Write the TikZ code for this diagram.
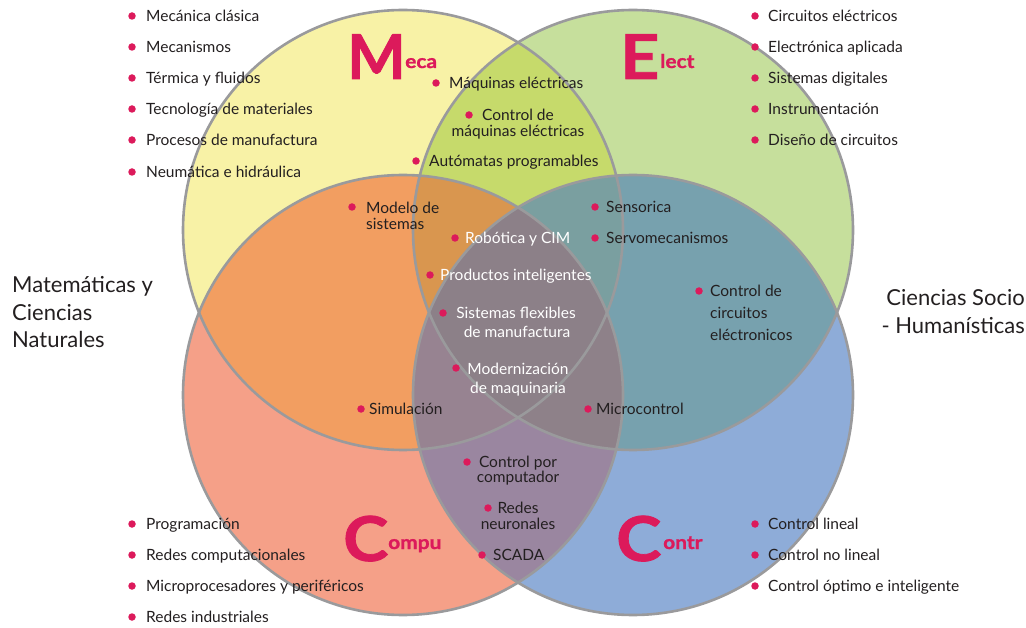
\documentclass[tikz,border=0pt]{standalone}
\usepackage{fontspec}
\setmainfont{Lato}
\newfontfamily\heavyfont{Lato}[BoldFeatures={FakeBold=1.2}]
\begin{document}
\definecolor{fM}{HTML}{F8F2A6}
\definecolor{fE}{HTML}{C6DF9C}
\definecolor{fC}{HTML}{F5A088}
\definecolor{fT}{HTML}{8EACD8}
\definecolor{fME}{HTML}{C6DA6B}
\definecolor{fMC}{HTML}{F29E61}
\definecolor{fET}{HTML}{77A1AE}
\definecolor{fCT}{HTML}{9A86A0}
\definecolor{fMEC}{HTML}{D9964F}
\definecolor{fMET}{HTML}{7A9FA0}
\definecolor{fMCT}{HTML}{978391}
\definecolor{fECT}{HTML}{8E8189}
\definecolor{fALL}{HTML}{8C8088}
\definecolor{rim}{HTML}{9A9A9C}
\definecolor{ink}{HTML}{231F20}
\definecolor{magenta}{HTML}{DC1A5B}
\begin{tikzpicture}[x=1pt,y=-1pt,
  dot/.style={circle,fill=magenta,inner sep=0pt,minimum size=7.5pt},
  lbl/.style={inner sep=0pt,anchor=base west,text=ink,font=\fontsize{15.5}{18}\selectfont},
  wlbl/.style={lbl,text=white},
  side/.style={inner sep=0pt,anchor=base west,text=ink,font=\fontsize{22}{26}\selectfont},
  bigl/.style={inner sep=0pt,anchor=base west,text=magenta,xscale=1.1,font=\fontsize{62}{62}\selectfont\heavyfont\bfseries},
  smalll/.style={inner sep=0pt,anchor=base west,text=magenta,xscale=1.1,font=\fontsize{19}{19}\selectfont\heavyfont\bfseries},
  rr/.style={radius=220pt}]
\useasboundingbox (0,0) rectangle (1026,628);
\coordinate (cM) at (403,230);
\coordinate (cE) at (633,230);
\coordinate (cC) at (403,395);
\coordinate (cT) at (633,395);

% single sets
\fill[fM] (cM) circle[rr];
\fill[fE] (cE) circle[rr];
\fill[fC] (cC) circle[rr];
\fill[fT] (cT) circle[rr];
% pairwise overlaps
\begin{scope}\clip (cM) circle[rr]; \fill[fME] (cE) circle[rr];\end{scope}
\begin{scope}\clip (cM) circle[rr]; \fill[fMC] (cC) circle[rr];\end{scope}
\begin{scope}\clip (cE) circle[rr]; \fill[fET] (cT) circle[rr];\end{scope}
\begin{scope}\clip (cC) circle[rr]; \fill[fCT] (cT) circle[rr];\end{scope}
% triple overlaps
\begin{scope}\clip (cM) circle[rr]; \clip (cE) circle[rr]; \fill[fMEC] (cC) circle[rr];\end{scope}
\begin{scope}\clip (cM) circle[rr]; \clip (cE) circle[rr]; \fill[fMET] (cT) circle[rr];\end{scope}
\begin{scope}\clip (cM) circle[rr]; \clip (cC) circle[rr]; \fill[fMCT] (cT) circle[rr];\end{scope}
\begin{scope}\clip (cE) circle[rr]; \clip (cC) circle[rr]; \fill[fECT] (cT) circle[rr];\end{scope}
% all four
\begin{scope}\clip (cM) circle[rr]; \clip (cE) circle[rr]; \clip (cC) circle[rr]; \fill[fALL] (cT) circle[rr];\end{scope}
% outlines
\foreach \c in {cM,cE,cC,cT} \draw[rim,line width=2.6pt] (\c) circle[rr];

% big initials
\node[bigl,xscale=0.91] (bigM) at (347,79) {M};
\node[smalll] (smM) at (405,68) {eca};
\node[bigl] (bigE) at (620,79) {E};
\node[smalll] (smE) at (660,68) {lect};
\node[bigl] (bigC) at (343,561) {C};
\node[smalll] (smC) at (388,549) {ompu};
\node[bigl] (bigT) at (616,561) {C};
\node[smalll] (smT) at (663,549) {ontr};

% side headings
\node[side] (mat1) at (12,293) {Matemáticas y};
\node[side] (mat2) at (12,320.5) {Ciencias};
\node[side] (mat3) at (12,348) {Naturales};
\node[side,anchor=base east] (soc1) at (1025,306) {Ciencias Socio};
\node[side,anchor=base east] (soc2) at (1025,334) {- Humanísticas};

% Meca list
\node[dot] (dm1) at (132,16) {};  \node[lbl] (tm1) at (146,21.5) {Mecánica clásica};
\node[dot] (dm2) at (132,47) {};  \node[lbl] (tm2) at (146,52.5) {Mecanismos};
\node[dot] (dm3) at (132,78) {};  \node[lbl] (tm3) at (146,83.5) {Térmica y fluidos};
\node[dot] (dm4) at (132,109) {}; \node[lbl] (tm4) at (146,114.5) {Tecnología de materiales};
\node[dot] (dm5) at (132,140) {}; \node[lbl] (tm5) at (146,145.5) {Procesos de manufactura};
\node[dot] (dm6) at (132,172) {}; \node[lbl] (tm6) at (146,177.5) {Neumática e hidráulica};

% Elect list
\node[dot] (de1) at (755,16) {};  \node[lbl] (te1) at (768,21.5) {Circuitos eléctricos};
\node[dot] (de2) at (755,47) {};  \node[lbl] (te2) at (768,52.5) {Electrónica aplicada};
\node[dot] (de3) at (755,78) {};  \node[lbl] (te3) at (768,83.5) {Sistemas digitales};
\node[dot] (de4) at (755,109) {}; \node[lbl] (te4) at (768,114.5) {Instrumentación};
\node[dot] (de5) at (755,140) {}; \node[lbl] (te5) at (768,145.5) {Diseño de circuitos};

% Compu list
\node[dot] (dc1) at (132,524) {}; \node[lbl] (tc1) at (146,529.5) {Programación};
\node[dot] (dc2) at (132,555) {}; \node[lbl] (tc2) at (146,560.5) {Redes computacionales};
\node[dot] (dc3) at (132,586) {}; \node[lbl] (tc3) at (146,591.5) {Microprocesadores y periféricos};
\node[dot] (dc4) at (132,617) {}; \node[lbl] (tc4) at (146,622.5) {Redes industriales};

% Contr list
\node[dot] (dt1) at (755,524) {}; \node[lbl] (tt1) at (768,529.5) {Control lineal};
\node[dot] (dt2) at (755,555) {}; \node[lbl] (tt2) at (768,560.5) {Control no lineal};
\node[dot] (dt3) at (755,586) {}; \node[lbl] (tt3) at (768,591.5) {Control óptimo e inteligente};

% items inside the overlaps
\node[dot] (d01) at (436,83) {};  \node[lbl] (t01) at (449,88.5) {Máquinas eléctricas};
\node[dot] (d02) at (469,115) {}; \node[lbl,anchor=base] (t02a) at (518,120.5) {Control de};
                                  \node[lbl,anchor=base] (t02b) at (518,136.5) {máquinas eléctricas};
\node[dot] (d03) at (416,161) {}; \node[lbl] (t03) at (429,166.5) {Autómatas programables};
\node[dot] (d04) at (352,207) {}; \node[lbl] (t04a) at (366,213.5) {Modelo de};
                                  \node[lbl] (t04b) at (366,229.5) {sistemas};
\node[dot] (d05) at (455,238) {}; \node[wlbl] (t05) at (465,243.5) {Robótica y CIM};
\node[dot] (d06) at (430,275) {}; \node[wlbl] (t06) at (440,280.5) {Productos inteligentes};
\node[dot] (d07) at (443,313) {}; \node[wlbl,anchor=base] (t07a) at (516,318.5) {Sistemas flexibles};
                                  \node[wlbl,anchor=base] (t07b) at (517,337.5) {de manufactura};
\node[dot] (d08) at (456,368) {}; \node[wlbl,anchor=base] (t08a) at (518,374.5) {Modernización};
                                  \node[wlbl,anchor=base] (t08b) at (518,393.5) {de maquinaria};
\node[dot] (d09) at (361,409) {}; \node[lbl] (t09) at (369,414.5) {Simulación};
\node[dot] (d10) at (588,409) {}; \node[lbl] (t10) at (596,414.5) {Microcontrol};
\node[dot] (d11) at (595,207) {}; \node[lbl] (t11) at (606,212.5) {Sensorica};
\node[dot] (d12) at (595,238) {}; \node[lbl] (t12) at (606,243.5) {Servomecanismos};
\node[dot] (d13) at (699,291) {}; \node[lbl] (t13a) at (710,296.5) {Control de};
                                  \node[lbl] (t13b) at (710,318.5) {circuitos};
                                  \node[lbl] (t13c) at (710,340.5) {eléctronicos};
\node[dot] (d14) at (467,462) {}; \node[lbl,anchor=base] (t14a) at (518,467.5) {Control por};
                                  \node[lbl,anchor=base] (t14b) at (518,482.5) {computador};
\node[dot] (d15) at (488,508) {}; \node[lbl,anchor=base] (t15a) at (518,513.5) {Redes};
                                  \node[lbl,anchor=base] (t15b) at (518,529.5) {neuronales};
\node[dot] (d16) at (482,555) {}; \node[lbl] (t16) at (493,560.5) {SCADA};
\end{tikzpicture}
\end{document}
